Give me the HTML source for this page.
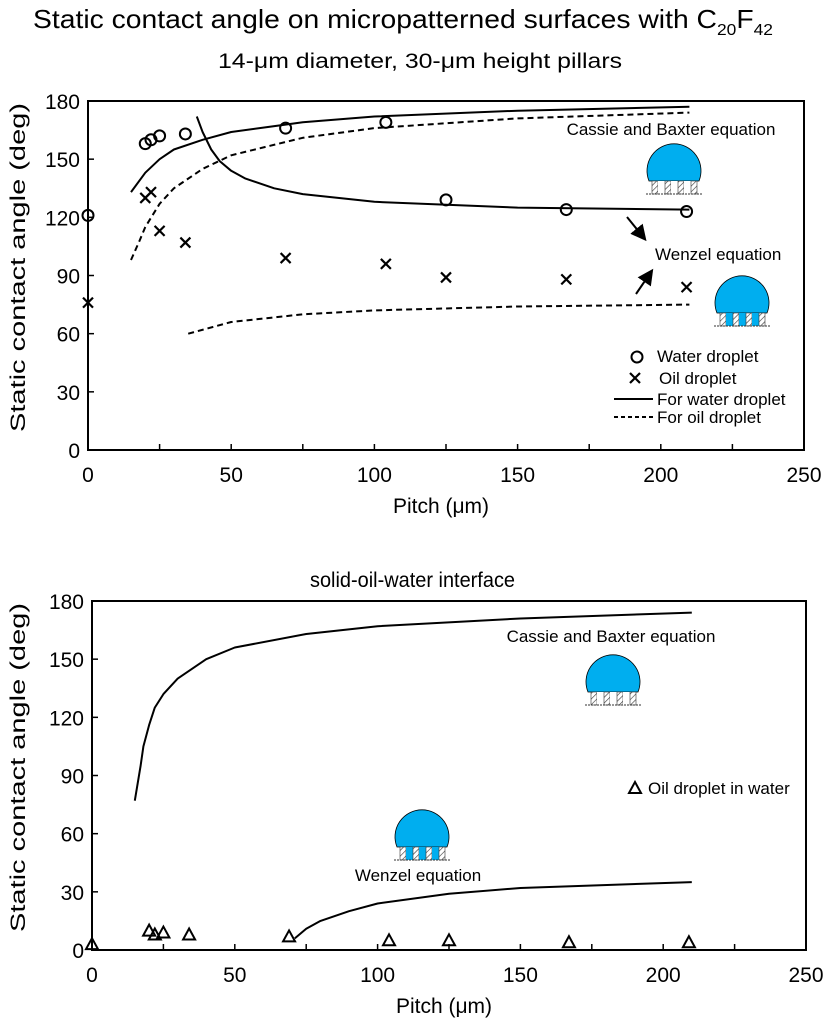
<!DOCTYPE html>
<html><head><meta charset="utf-8"><style>
body{margin:0;background:#fff;}
svg{display:block;font-family:"Liberation Sans",Arial,sans-serif;}
</style></head><body>
<svg id="s" width="829" height="1024" viewBox="0 0 829 1024">
<defs>
<pattern id="hatch" width="4" height="4" patternUnits="userSpaceOnUse" patternTransform="rotate(45)">
<rect width="4" height="4" fill="#fff"/><line x1="0" y1="0" x2="0" y2="4" stroke="#333" stroke-width="1.2"/></pattern>
<marker id="ah" markerWidth="8" markerHeight="8" refX="6" refY="4" orient="auto"><path d="M0,0 L8,4 L0,8 z" fill="#000"/></marker>
</defs>
<text x="33" y="28" font-size="26" textLength="740" lengthAdjust="spacingAndGlyphs">Static contact angle on micropatterned surfaces with C<tspan font-size="16" dy="7">20</tspan><tspan dy="-7">F</tspan><tspan font-size="16" dy="7">42</tspan></text>
<text x="218" y="68" font-size="21" textLength="404" lengthAdjust="spacingAndGlyphs">14-μm diameter, 30-μm height pillars</text>
<text x="310" y="587" font-size="21" textLength="205" lengthAdjust="spacingAndGlyphs">solid-oil-water interface</text>
<g id="top"></g>
<g id="bot"></g>
</svg>
<script>
const xTicks=[0,50,100,150,200,250];
const yTicks=[0,30,60,90,120,150,180];
const waterX=[0,20,22,25,34,69,104,125,167,209];
const waterY=[121,158,160,162,163,166,169,129,124,123];
const oilX=[0,20,22,25,34,69,104,125,167,209];
const oilY=[76,130,133,113,107,99,96,89,88,84];
const waterCBx=[15,20,25,30,40,50,75,100,150,210];
const waterCBy=[133,143,150,155,160,164,169,172,175,177];
const oilCBx=[15,18,20,25,30,40,50,75,100,150,210];
const oilCBy=[98,108,115,127,135,145,152,161,166,171,174];
const waterWx=[38,40,43,46,50,55,65,75,100,150,210];
const waterWy=[172,164,155,149,144,140,135,132,128,125,124];
const oilWx=[35,50,75,100,150,210];
const oilWy=[60,66,70,72,74,75];
const triX=[0,20,22,25,34,69,104,125,167,209];
const triY=[3,10,8,9,8,7,5,5,4,4];
const botCBx=[15,17,18,20,22,25,30,40,50,75,100,150,210];
const botCBy=[77,95,105,116,125,132,140,150,156,163,167,171,174];
const botWx=[71,75,80,90,100,125,150,210];
const botWy=[6,11,15,20,24,29,32,35];

const NS="http://www.w3.org/2000/svg";
function mk(p,t,a){const e=document.createElementNS(NS,t);for(const k in a)e.setAttribute(k,a[k]);p.appendChild(e);return e;}

function chart(g,L,R,T,B){
  const sx=v=>L+(R-L)*v/250, sy=v=>B-(B-T)*v/180;
  const f=mk(g,'rect',{x:L,y:T,width:R-L,height:B-T,fill:'none',stroke:'#000','stroke-width':2});
  
  
  for(let v=25;v<250;v+=25){const t=mk(g,'line',{x1:sx(v),x2:sx(v),y1:B,y2:B-6,stroke:'#000','stroke-width':1.5});
    
    }
  xTicks.forEach(v=>{const t=mk(g,'text',{x:sx(v),y:B+32,'font-size':21,'text-anchor':'middle'});t.textContent=v;
    
    });
  yTicks.forEach(v=>{const l=mk(g,'line',{x1:L,x2:L+6,y1:sy(v),y2:sy(v),stroke:'#000','stroke-width':1.5});
    
    
    const t=mk(g,'text',{x:L-8,y:sy(v)+8,'font-size':21,'text-anchor':'end'});t.textContent=v;
    
    });
  const xt=mk(g,'text',{x:(L+R)/2-5,y:B+63,'font-size':21,'text-anchor':'middle'});xt.textContent='Pitch (μm)';
  
  
  const yt=mk(g,'text',{x:0,y:0,'font-size':21,'text-anchor':'middle',textLength:(B-T)-20,lengthAdjust:'spacingAndGlyphs',transform:`translate(25,${(T+B)/2-8}) rotate(-90)`});yt.textContent='Static contact angle (deg)';
  
  
  return {sx,sy};
}
function curve(g,a,xs,ys,dash,name){
  const d=xs.map((x,i)=>(i?'L':'M')+a.sx(x).toFixed(1)+','+a.sy(ys[i]).toFixed(1)).join(' ');
  const p=mk(g,'path',{d,fill:'none',stroke:'#000','stroke-width':2,'stroke-dasharray':dash?'6,4':'none','stroke-linejoin':'round'});
  
  
}
function circ(g,x,y,name){const c=mk(g,'circle',{cx:x,cy:y,r:5.5,fill:'none',stroke:'#000','stroke-width':2});
  
  }
function cross(g,x,y,name){const p=mk(g,'path',{d:`M${x-5},${y-5}L${x+5},${y+5}M${x+5},${y-5}L${x-5},${y+5}`,stroke:'#000','stroke-width':2.2});
  
  }
function tri(g,x,y,name){const p=mk(g,'path',{d:`M${x},${y-6}L${x+6},${y+5}L${x-6},${y+5}Z`,fill:'none',stroke:'#000','stroke-width':2});
  
  }
function drop(g,cx,cy,wenzel,name){
  const dg=mk(g,'g',{});
  
  
  const r=27, base=cy+18;
  mk(dg,'path',{d:`M${cx-25},${base} A${r},${r} 0 1 1 ${cx+25},${base} Z`,fill:'#00aeef',stroke:'#000','stroke-width':0.8});
  for(let i=0;i<4;i++){const px=cx-22+i*13;mk(dg,'rect',{x:px,y:base,width:6,height:13,fill:'url(#hatch)',stroke:'#333','stroke-width':0.6});
    if(wenzel&&i<3)mk(dg,'rect',{x:px+6,y:base,width:7,height:13,fill:'#00aeef'});
    else if(i<3)mk(dg,'rect',{x:px+6,y:base,width:7,height:13,fill:'#fff'});}
  mk(dg,'line',{x1:cx-28,x2:cx+28,y1:base+13,y2:base+13,stroke:'#333','stroke-width':1,'stroke-dasharray':'2,1'});
}
function txt(g,x,y,s,size,name,anchor){const t=mk(g,'text',{x,y,'font-size':size,'text-anchor':anchor||'start'});t.textContent=s;
  
  }

// top chart
const tg=document.getElementById('top');
const a=chart(tg,88,804,101,450);
curve(tg,a,waterCBx,waterCBy,false,'water-cassie-curve');
curve(tg,a,oilCBx,oilCBy,true,'oil-cassie-curve');
curve(tg,a,waterWx,waterWy,false,'water-wenzel-curve');
curve(tg,a,oilWx,oilWy,true,'oil-wenzel-curve');
waterX.forEach((x,i)=>circ(tg,a.sx(x),a.sy(waterY[i]),'water-point'));
oilX.forEach((x,i)=>cross(tg,a.sx(x),a.sy(oilY[i]),'oil-point'));
txt(tg,671,135,'Cassie and Baxter equation',17,'cassie-label','middle');
drop(tg,674,163,false,'cassie-droplet-icon');
txt(tg,655,260,'Wenzel equation',17,'wenzel-label');
drop(tg,742,295,true,'wenzel-droplet-icon');
mk(tg,'line',{x1:627,y1:217,x2:644,y2:238,stroke:'#000','stroke-width':2,'marker-end':'url(#ah)'});
mk(tg,'line',{x1:636,y1:294,x2:651,y2:272,stroke:'#000','stroke-width':2,'marker-end':'url(#ah)'});
circ(tg,637,357,'legend-water-marker');txt(tg,657,362,'Water droplet',17,'legend-water');
cross(tg,635,378,'legend-oil-marker');txt(tg,659,384,'Oil droplet',17,'legend-oil');
mk(tg,'line',{x1:614,x2:653,y1:399,y2:399,stroke:'#000','stroke-width':2});txt(tg,657,405,'For water droplet',17,'legend-water-line');
mk(tg,'line',{x1:614,x2:653,y1:417,y2:417,stroke:'#000','stroke-width':2,'stroke-dasharray':'4,3'});txt(tg,657,423,'For oil droplet',17,'legend-oil-line');

// bottom chart
const bg=document.getElementById('bot');
const b=chart(bg,92,806,601,950);
curve(bg,b,botCBx,botCBy,false,'cassie-curve');
curve(bg,b,botWx,botWy,false,'wenzel-curve');
triX.forEach((x,i)=>tri(bg,b.sx(x),b.sy(triY[i]),'oil-in-water-point'));
txt(bg,611,642,'Cassie and Baxter equation',17,'cassie-label','middle');
drop(bg,613,674,false,'cassie-droplet-icon');
txt(bg,418,881,'Wenzel equation',17,'wenzel-label','middle');
drop(bg,422,829,true,'wenzel-droplet-icon');
tri(bg,635,788,'legend-triangle');txt(bg,648,794,'Oil droplet in water',17,'legend-oil-in-water');
</script>
</body></html>
